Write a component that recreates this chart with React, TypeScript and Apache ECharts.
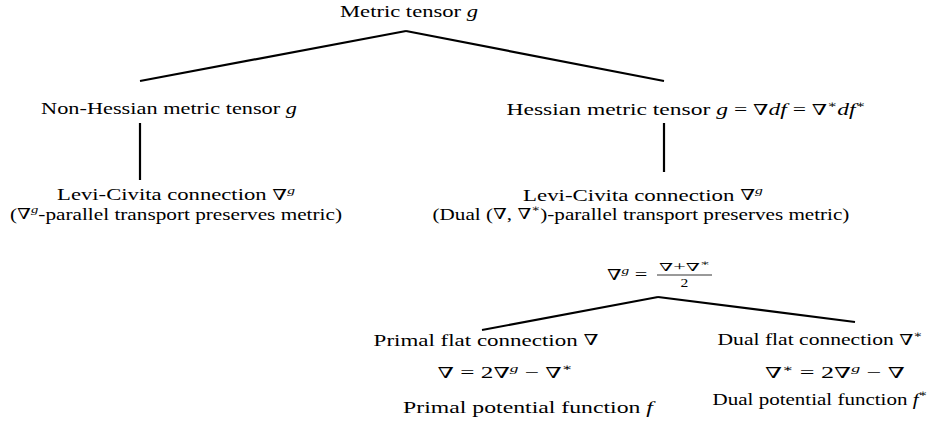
import React, { useEffect, useRef } from "react";
import * as echarts from "echarts";

// ---- content (texts of the tree) ----
const nodeIds = [
  "root", "nonHess", "lc1", "lc1b", "hess", "lc2", "lc2b",
  "avg", "primal", "primalEq", "primalPot", "dual", "dualEq", "dualPot",
];
const nodeLabels = [
  "Metric tensor {i|g}",
  "Non-Hessian metric tensor {i|g}",
  "Levi-Civita connection ∇{si|g}",
  "(∇{si|g}-parallel transport preserves metric)",
  "Hessian metric tensor {i|g} = ∇{i|df} = ∇{s|∗}{i|df}{s|∗}",
  "Levi-Civita connection ∇{si|g}",
  "(Dual (∇, ∇{s|∗})-parallel transport preserves metric)",
  "∇{si|g} = ",
  "Primal flat connection ∇",
  "∇ = 2∇{si|g} − ∇{s|∗}",
  "Primal potential function {i|f}",
  "Dual flat connection ∇{s|∗}",
  "∇{s|∗} = 2∇{si|g} − ∇",
  "Dual potential function {i|f}{s|∗}",
];
const fractionNumerator = "∇+∇{s|∗}";
const fractionDenominator = "2";
const edgePairs = [
  ["root", "nonHess"],
  ["root", "hess"],
  ["nonHess", "lc1"],
  ["hess", "lc2"],
  ["avg", "primal"],
  ["avg", "dual"],
];

// ---- layout (positions / sizes) ----
const nodeLayout: Record<string, { cx: number; cy: number; w: number; align?: string }> = {
  root: { cx: 409, cy: 12, w: 138 },
  nonHess: { cx: 169, cy: 109, w: 256 },
  lc1: { cx: 176, cy: 195, w: 238 },
  lc1b: { cx: 176, cy: 214, w: 332 },
  hess: { cx: 686, cy: 109, w: 359 },
  lc2: { cx: 643, cy: 195, w: 240 },
  lc2b: { cx: 641, cy: 214, w: 417 },
  avg: { cx: 653, cy: 275, w: 46, align: "right" },
  primal: { cx: 486, cy: 340, w: 225 },
  primalEq: { cx: 505, cy: 373, w: 135 },
  primalPot: { cx: 528, cy: 407, w: 250 },
  dual: { cx: 820, cy: 340, w: 205 },
  dualEq: { cx: 835, cy: 373, w: 140 },
  dualPot: { cx: 820, cy: 399, w: 215 },
};
const fractionLayout = { x0: 657, x1: 712, y: 275, numDy: -8, denDy: 8 };
const edgeLayout: Record<string, number[]> = {
  "root-nonHess": [406, 31, 140, 81],
  "root-hess": [406, 31, 664, 81],
  "nonHess-lc1": [140, 123, 140, 180],
  "hess-lc2": [664, 123, 664, 172],
  "avg-primal": [658, 297, 482, 330],
  "avg-dual": [658, 297, 855, 322],
};

const FONT = "'Liberation Serif', 'Times New Roman', serif";
const MATH = "'DejaVu Serif', serif";
const BASE = 16;
const SUP = 11;

function makeRich(base: number, sup: number) {
  return {
    i: { fontStyle: "italic", fontSize: base, fontFamily: FONT, fill: "#000" },
    n: { fontSize: base - 1, fontFamily: MATH, fill: "#000" },
    s: { fontSize: sup - 1, fontFamily: MATH, verticalAlign: "top", lineHeight: sup + 2, fill: "#000" },
    si: { fontSize: sup, fontStyle: "italic", fontFamily: FONT, verticalAlign: "top", lineHeight: sup + 2, fill: "#000" },
  };
}

function prep(label: string) {
  return label.replace(/∇/g, "{n|∇}");
}

function textStyle(text: string, base: number, sup: number, align: string) {
  return {
    text: prep(text),
    rich: makeRich(base, sup),
    fontFamily: FONT,
    fontSize: base,
    lineHeight: base + 4,
    fill: "#000",
    align,
    verticalAlign: "middle",
  };
}

function measure(text: string, base: number, sup: number): number {
  const t = new (echarts.graphic as any).Text({ style: textStyle(text, base, sup, "left") });
  return t.getBoundingRect().width;
}

export default function App() {
  const ref = useRef<HTMLDivElement>(null);
  useEffect(() => {
    if (!ref.current) return;
    const chart = echarts.init(ref.current, null, { renderer: "svg" });
    const elements: any[] = [];

    nodeIds.forEach((id, k) => {
      const lay = nodeLayout[id];
      const label = nodeLabels[k];
      const natural = measure(label, BASE, SUP);
      const sx = natural > 0 ? lay.w / natural : 1;
      elements.push({
        type: "text",
        x: lay.cx,
        y: lay.cy,
        scaleX: sx,
        style: textStyle(label, BASE, SUP, lay.align || "center"),
      });
    });

    // fraction (∇+∇*)/2
    const fl = fractionLayout;
    const fcx = (fl.x0 + fl.x1) / 2;
    const numW = measure(fractionNumerator, 12, 9);
    elements.push({
      type: "text",
      x: fcx,
      y: fl.y + fl.numDy,
      scaleX: (fl.x1 - fl.x0 - 4) / numW,
      style: textStyle(fractionNumerator, 12, 9, "center"),
    });
    elements.push({
      type: "text",
      x: fcx,
      y: fl.y + fl.denDy,
      scaleX: 1.3,
      style: textStyle(fractionDenominator, 12, 9, "center"),
    });
    elements.push({
      type: "line",
      shape: { x1: fl.x0, y1: fl.y, x2: fl.x1, y2: fl.y },
      style: { stroke: "#000", lineWidth: 0.8 },
    });

    edgePairs.forEach(([a, b]) => {
      const c = edgeLayout[a + "-" + b];
      elements.push({
        type: "line",
        shape: { x1: c[0], y1: c[1], x2: c[2], y2: c[3] },
        style: { stroke: "#000", lineWidth: 2.2, lineCap: "butt" },
      });
    });

    chart.setOption({
      animation: false,
      backgroundColor: "#ffffff",
      graphic: { elements },
    });
    return () => chart.dispose();
  }, []);
  return (
    <div
      ref={ref}
      style={{ position: "fixed", left: 0, top: 0, width: 940, height: 425, background: "#fff" }}
    />
  );
}
